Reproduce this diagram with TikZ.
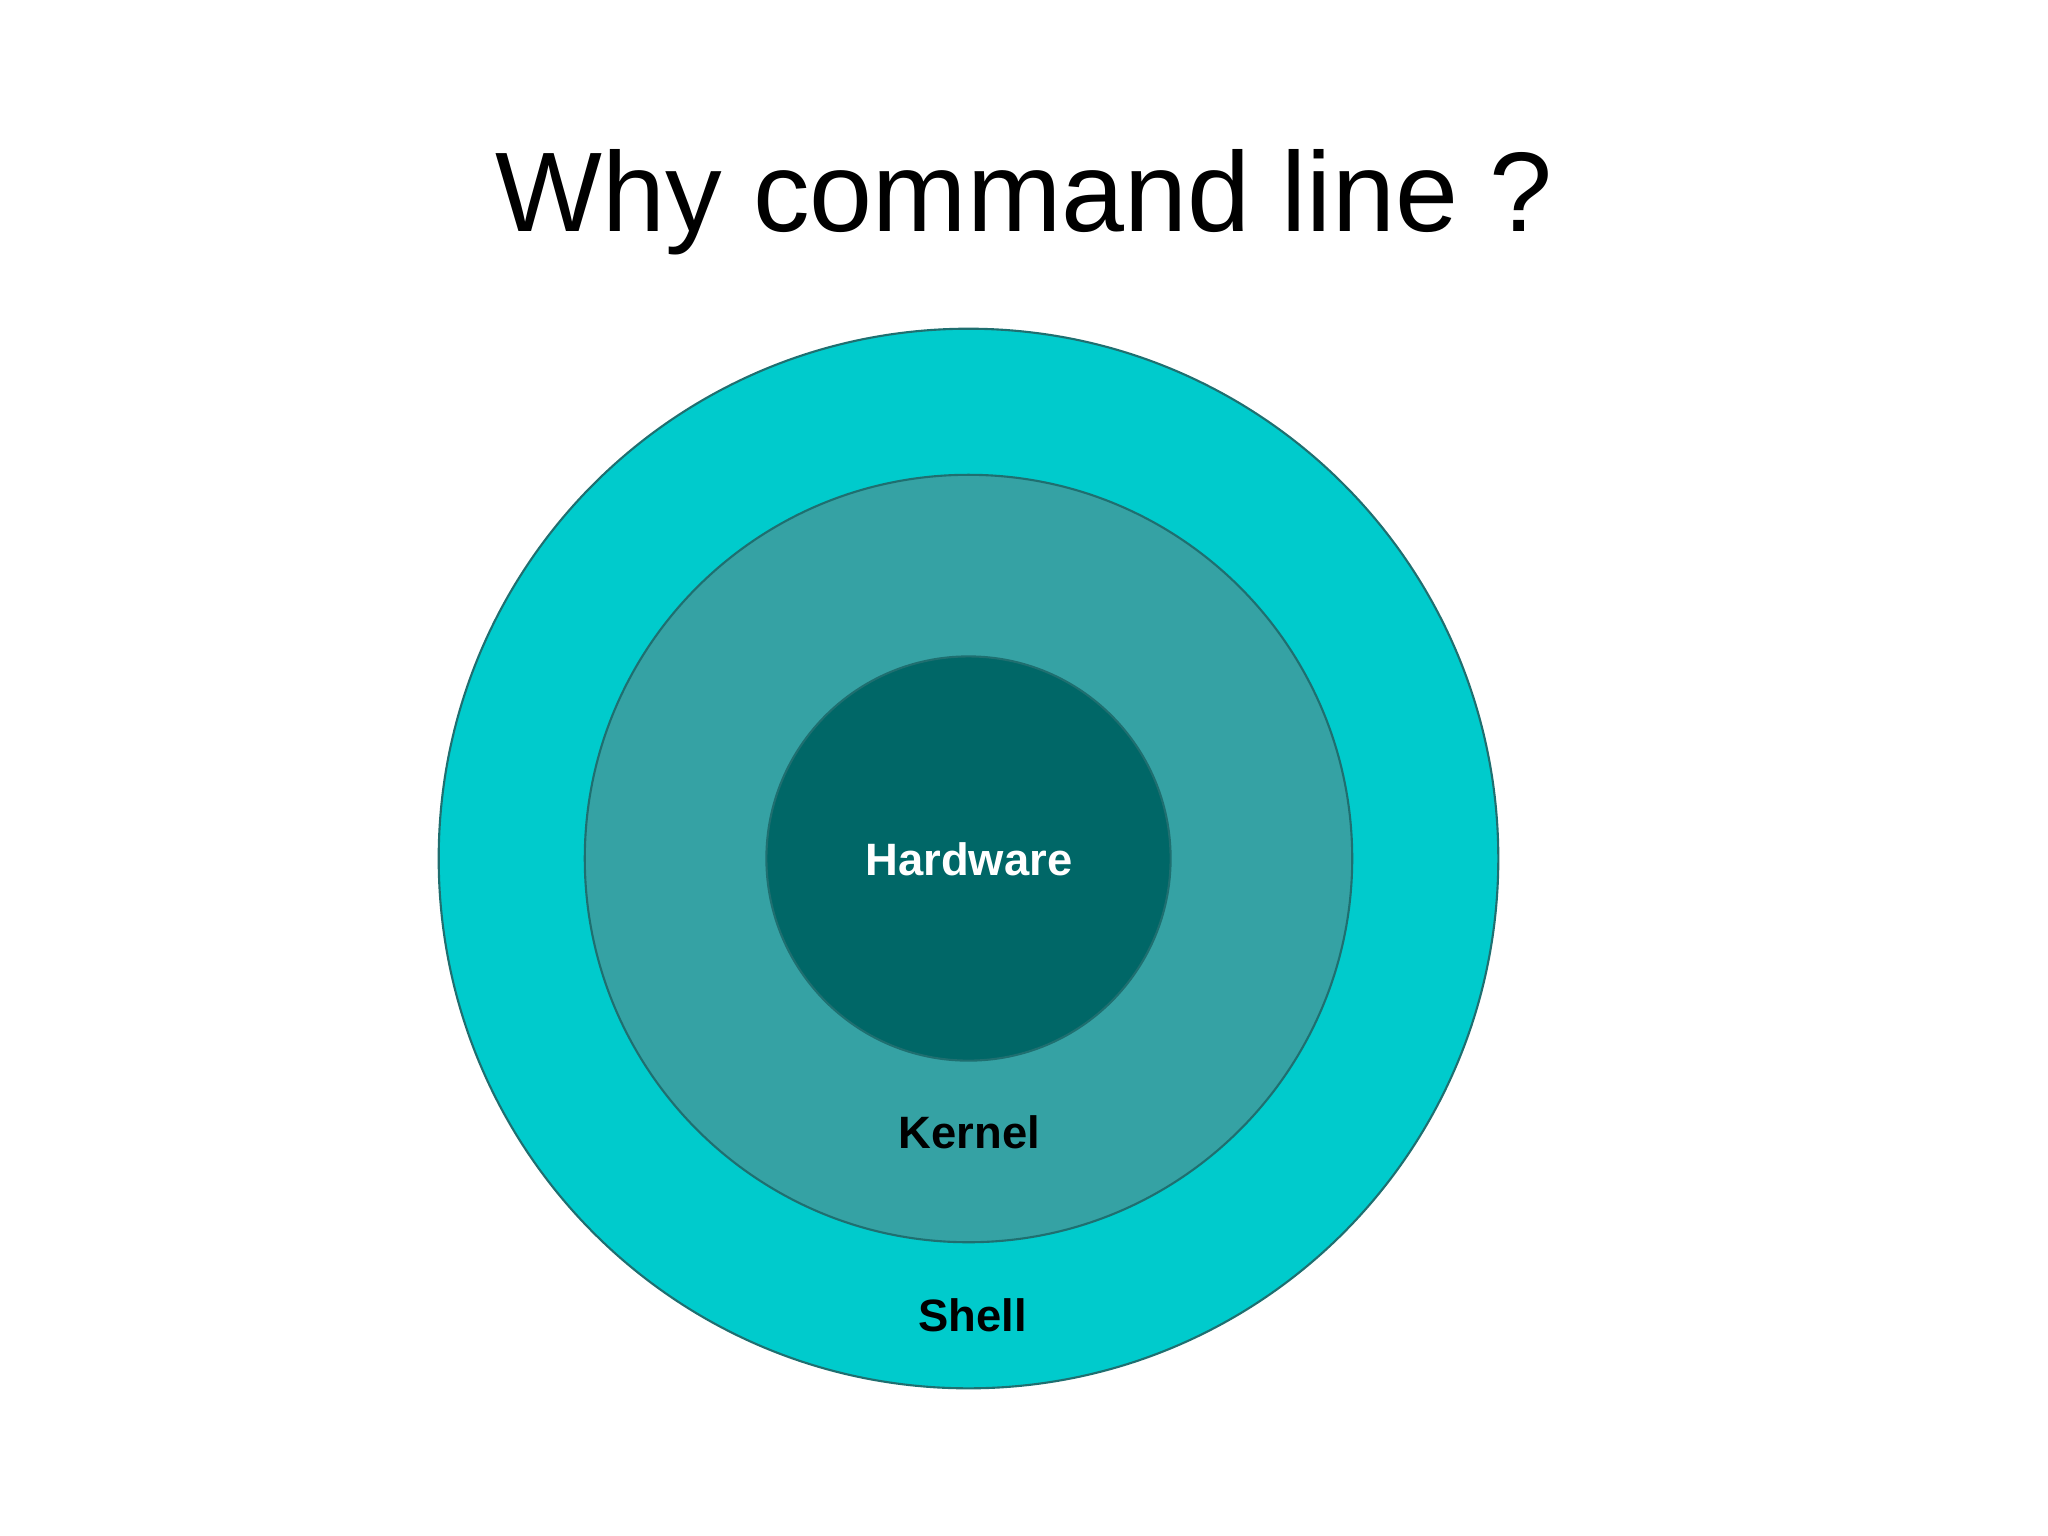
\documentclass[tikz,border=0pt]{standalone}
\usepackage{fontspec}
\setmainfont{Liberation Sans}
\definecolor{shellc}{HTML}{00CBCC}
\definecolor{kernelc}{HTML}{35A2A4}
\definecolor{hwc}{HTML}{006767}
\definecolor{edgec}{HTML}{1F6F70}
\tikzset{
  layer/.style={circle, draw=edgec, line width=0.6pt, inner sep=0pt},
  lbl/.style={font=\fontsize{12.9pt}{15pt}\selectfont\bfseries, anchor=base, inner sep=0pt},
}
\begin{document}
\begin{tikzpicture}[x=0.01cm, y=-0.01cm]
\useasboundingbox[fill=white] (0,0) rectangle (2048,1535);
\node[layer, fill=shellc, minimum size=10.59cm] (shell) at (968.5,858.5) {};
\node[layer, fill=kernelc, minimum size=7.67cm] (kernel) at (968.5,858.5) {};
\node[layer, fill=hwc, minimum size=4.04cm] (hw) at (968.5,858.5) {};
\node[font=\fontsize{32.2pt}{38pt}\selectfont, anchor=base, inner sep=0pt] (title) at (1024,231) {Why command line ?};
\node[lbl, text=white] (hwl) at (969,875) {Hardware};
\node[lbl, text=black] (kl) at (969.5,1148) {Kernel};
\node[lbl, text=black] (sl) at (972.5,1331) {Shell};
\end{tikzpicture}
\end{document}
